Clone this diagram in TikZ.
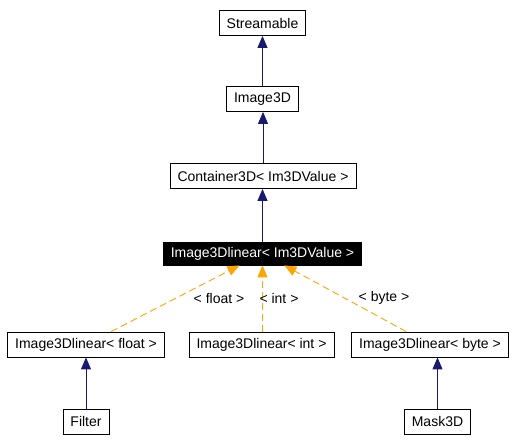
\documentclass[tikz,border=0pt]{standalone}
\usepackage{fontspec}
\setmainfont{Liberation Sans}
\usetikzlibrary{arrows.meta}
\definecolor{inhblue}{RGB}{25,25,112}
\definecolor{tplorange}{RGB}{255,165,0}
\tikzset{
  cls/.style={draw, rectangle, minimum height=25pt, inner xsep=7.5pt, inner ysep=0pt,
    font=\fontsize{14}{16}\selectfont, line width=0.8pt},
  curcls/.style={cls, fill=black, text=white, minimum height=23pt},
  inh/.style={draw=inhblue, line width=0.9pt, -{Triangle[length=12pt,width=10pt,fill=inhblue]}},
  tpl/.style={draw=tplorange, line width=0.9pt, dash pattern=on 7pt off 4pt,
    -{Triangle[length=12pt,width=10pt,fill=tplorange]}},
  tlabel/.style={font=\fontsize{14}{16}\selectfont, inner sep=0pt}
}
\begin{document}
\begin{tikzpicture}[x=1pt, y=-1pt]
    \useasboundingbox (0, 0) rectangle (524, 442);
    \node[cls] (stream) at (262.5, 23) {Streamable};
    \node[cls] (img3d) at (262.5, 99) {Image3D};
    \node[cls] (cont) at (263, 176) {Container3D< Im3DValue >};
    \node[curcls] (ilin) at (262.5, 253.5) {Image3Dlinear< Im3DValue >};

    \node[cls] (flt) at (86, 344.5) {Image3Dlinear< float >};
    \node[cls] (int) at (261.5, 344.5) {Image3Dlinear< int >};
    \node[cls] (byte) at (430, 344.5) {Image3Dlinear< byte >};
    \node[cls] (filter) at (86, 421.5) {Filter};
    \node[cls] (mask) at (437.5, 421.5) {Mask3D};

    \draw[inh] (img3d) -- (stream);
    \draw[inh] (cont) -- (cont |- img3d.south);
    \draw[inh] (ilin) -- (ilin |- cont.south);
    \draw[inh] (filter) -- (flt);
    \draw[inh] (mask) -- (mask |- byte.south);

    \draw[tpl] (flt) -- (ilin);
    \draw[tpl] (int.north -| ilin) -- (ilin);
    \draw[tpl] (byte) -- (ilin);

    \node[tlabel] (lflt) at (219, 298) {< float >};
    \node[tlabel] (lint) at (279, 298) {< int >};
    \node[tlabel] (lbyte) at (384, 298) {< byte >};
  \end{tikzpicture}
\end{document}
